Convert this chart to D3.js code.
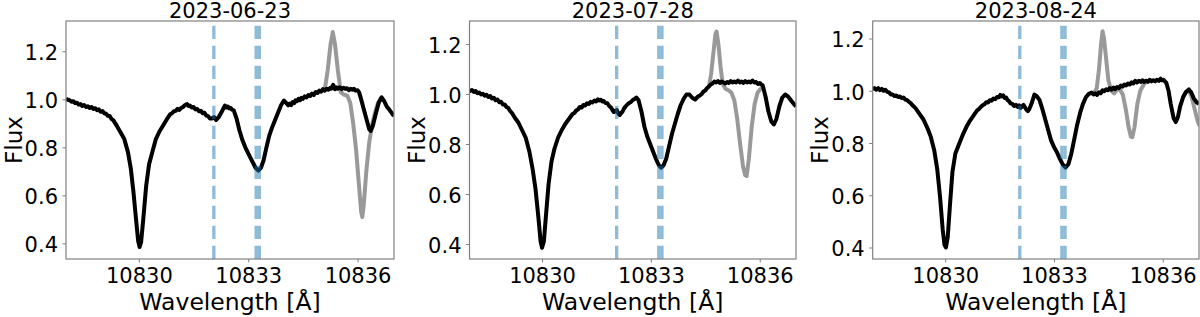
<!DOCTYPE html>
<html>
<head>
<meta charset="utf-8">
<script src="https://cdn.jsdelivr.net/npm/d3@7"></script>
<style>
  body { margin: 0; background: #fff; }
  svg { display: block; font-family: "DejaVu Sans", sans-serif; }
</style>
</head>
<body>
<script>
+function(window, d3) {

  // observation dates (panel titles)
  const dates = ['2023-06-23', '2023-07-28', '2023-08-24'];

  // He I triplet, vacuum wavelengths
  const heLines = [10832.057, 10833.217, 10833.306];

  const xTicks = [10830, 10833, 10836];
  const yTicks = [0.4, 0.6, 0.8, 1.0, 1.2];
  const xDomain = [10828, 10837];
  const yDomains = [[0.335, 1.326], [0.34, 1.292], [0.356, 1.267]];

  // corrected spectra [wavelength, flux]
  const black1 = [
    [10828.00, 1.003], [10828.05, 0.998], [10828.10, 0.996], [10828.15, 0.990], [10828.20, 0.992],
    [10828.25, 0.984], [10828.30, 0.986], [10828.35, 0.978], [10828.40, 0.980], [10828.45, 0.972],
    [10828.50, 0.976], [10828.55, 0.968], [10828.60, 0.971], [10828.65, 0.964], [10828.70, 0.968],
    [10828.75, 0.960], [10828.80, 0.963], [10828.85, 0.955], [10828.90, 0.958], [10828.95, 0.948],
    [10829.00, 0.951], [10829.05, 0.942], [10829.10, 0.940], [10829.15, 0.931], [10829.20, 0.930],
    [10829.25, 0.918], [10829.30, 0.912], [10829.40, 0.888], [10829.50, 0.862], [10829.60, 0.834],
    [10829.70, 0.780], [10829.78, 0.710], [10829.85, 0.615], [10829.92, 0.503], [10829.98, 0.410],
    [10830.02, 0.385], [10830.06, 0.405], [10830.12, 0.500], [10830.20, 0.640], [10830.28, 0.730],
    [10830.36, 0.775], [10830.46, 0.832], [10830.56, 0.865], [10830.66, 0.890], [10830.76, 0.915],
    [10830.86, 0.938], [10830.91, 0.942], [10830.96, 0.950], [10831.01, 0.952], [10831.06, 0.960],
    [10831.11, 0.956], [10831.16, 0.964], [10831.21, 0.968], [10831.26, 0.975], [10831.32, 0.980],
    [10831.36, 0.972], [10831.40, 0.974], [10831.45, 0.966], [10831.50, 0.968], [10831.55, 0.958],
    [10831.60, 0.960], [10831.65, 0.950], [10831.70, 0.952], [10831.75, 0.942], [10831.80, 0.944],
    [10831.85, 0.932], [10831.90, 0.930], [10831.95, 0.920], [10832.00, 0.920], [10832.06, 0.926],
    [10832.12, 0.914], [10832.20, 0.928], [10832.28, 0.950], [10832.32, 0.962], [10832.36, 0.974],
    [10832.40, 0.966], [10832.44, 0.970], [10832.48, 0.962], [10832.52, 0.964], [10832.56, 0.956],
    [10832.60, 0.955], [10832.68, 0.920], [10832.76, 0.870], [10832.84, 0.830], [10832.92, 0.800],
    [10833.00, 0.775], [10833.10, 0.745], [10833.20, 0.715], [10833.28, 0.703], [10833.35, 0.715],
    [10833.42, 0.745], [10833.50, 0.800], [10833.58, 0.850], [10833.66, 0.885], [10833.74, 0.915],
    [10833.82, 0.945], [10833.90, 0.975], [10833.98, 0.995], [10834.04, 0.985], [10834.10, 0.975],
    [10834.14, 0.982], [10834.18, 0.976], [10834.22, 0.988], [10834.26, 0.984], [10834.30, 0.996],
    [10834.34, 0.992], [10834.38, 1.002], [10834.42, 0.996], [10834.46, 1.006], [10834.50, 1.002],
    [10834.55, 1.012], [10834.60, 1.008], [10834.65, 1.018], [10834.70, 1.014], [10834.75, 1.024],
    [10834.80, 1.018], [10834.85, 1.030], [10834.90, 1.026], [10834.95, 1.036], [10835.00, 1.032],
    [10835.05, 1.042], [10835.10, 1.036], [10835.15, 1.044], [10835.20, 1.040], [10835.25, 1.048],
    [10835.28, 1.044], [10835.33, 1.060], [10835.38, 1.042], [10835.42, 1.050], [10835.46, 1.044],
    [10835.51, 1.050], [10835.56, 1.042], [10835.61, 1.048], [10835.66, 1.044], [10835.71, 1.046],
    [10835.76, 1.038], [10835.81, 1.044], [10835.86, 1.040], [10835.90, 1.044], [10835.94, 1.036],
    [10836.00, 1.038], [10836.04, 1.030], [10836.08, 1.010], [10836.16, 0.965], [10836.24, 0.920],
    [10836.32, 0.875], [10836.36, 0.868], [10836.42, 0.890], [10836.50, 0.940], [10836.58, 0.985],
    [10836.66, 1.008], [10836.72, 0.995], [10836.80, 0.970], [10836.88, 0.955], [10836.94, 0.942],
    [10837.00, 0.930]
  ];

  const black2 = [
    [10827.97, 1.018], [10828.02, 1.012], [10828.07, 1.016], [10828.12, 1.008], [10828.17, 1.012],
    [10828.22, 1.003], [10828.27, 1.006], [10828.32, 0.998], [10828.37, 1.001], [10828.42, 0.993],
    [10828.47, 0.997], [10828.52, 0.988], [10828.57, 0.992], [10828.62, 0.982], [10828.67, 0.985],
    [10828.72, 0.975], [10828.77, 0.978], [10828.82, 0.967], [10828.87, 0.969], [10828.92, 0.958],
    [10828.97, 0.958], [10829.02, 0.948], [10829.07, 0.944], [10829.12, 0.932], [10829.17, 0.924],
    [10829.25, 0.905], [10829.35, 0.885], [10829.45, 0.855], [10829.55, 0.825], [10829.65, 0.770],
    [10829.74, 0.700], [10829.82, 0.620], [10829.90, 0.505], [10829.96, 0.410], [10830.00, 0.385],
    [10830.05, 0.410], [10830.10, 0.500], [10830.18, 0.640], [10830.26, 0.730], [10830.34, 0.780],
    [10830.44, 0.825], [10830.54, 0.855], [10830.64, 0.880], [10830.74, 0.900], [10830.84, 0.920],
    [10830.89, 0.924], [10830.94, 0.934], [10830.99, 0.938], [10831.04, 0.948], [10831.09, 0.946],
    [10831.14, 0.956], [10831.19, 0.954], [10831.24, 0.963], [10831.29, 0.960], [10831.34, 0.969],
    [10831.39, 0.966], [10831.44, 0.974], [10831.49, 0.970], [10831.54, 0.979], [10831.58, 0.974],
    [10831.62, 0.977], [10831.66, 0.970], [10831.70, 0.972], [10831.75, 0.964], [10831.80, 0.963],
    [10831.85, 0.952], [10831.90, 0.946], [10831.94, 0.936], [10831.98, 0.928], [10832.02, 0.932],
    [10832.06, 0.936], [10832.10, 0.922], [10832.14, 0.916], [10832.18, 0.924], [10832.22, 0.930],
    [10832.26, 0.942], [10832.30, 0.950], [10832.35, 0.958], [10832.40, 0.964], [10832.45, 0.968],
    [10832.50, 0.976], [10832.55, 0.980], [10832.60, 0.986], [10832.66, 0.975], [10832.74, 0.930],
    [10832.82, 0.870], [10832.90, 0.830], [10832.98, 0.800], [10833.06, 0.770], [10833.14, 0.740],
    [10833.22, 0.715], [10833.28, 0.705], [10833.35, 0.715], [10833.42, 0.740], [10833.50, 0.790],
    [10833.58, 0.840], [10833.66, 0.880], [10833.74, 0.920], [10833.82, 0.955], [10833.90, 0.980],
    [10833.98, 0.998], [10834.06, 0.998], [10834.14, 0.985], [10834.22, 0.978], [10834.30, 0.990],
    [10834.35, 0.994], [10834.40, 1.000], [10834.45, 1.010], [10834.50, 1.014], [10834.55, 1.024],
    [10834.60, 1.030], [10834.65, 1.038], [10834.70, 1.042], [10834.75, 1.050], [10834.80, 1.046],
    [10834.85, 1.052], [10834.90, 1.044], [10834.95, 1.050], [10835.00, 1.046], [10835.05, 1.042],
    [10835.10, 1.048], [10835.15, 1.044], [10835.20, 1.052], [10835.25, 1.046], [10835.30, 1.050],
    [10835.35, 1.046], [10835.40, 1.054], [10835.45, 1.046], [10835.50, 1.050], [10835.55, 1.044],
    [10835.60, 1.052], [10835.65, 1.046], [10835.70, 1.050], [10835.75, 1.046], [10835.80, 1.054],
    [10835.85, 1.046], [10835.90, 1.048], [10835.95, 1.040], [10836.00, 1.044], [10836.04, 1.038],
    [10836.08, 1.035], [10836.16, 0.990], [10836.24, 0.930], [10836.32, 0.890], [10836.39, 0.878],
    [10836.46, 0.900], [10836.54, 0.950], [10836.62, 0.985], [10836.70, 0.998], [10836.78, 0.990],
    [10836.86, 0.975], [10836.94, 0.960], [10837.00, 0.950]
  ];

  const black3 = [
    [10828.00, 1.005], [10828.05, 1.010], [10828.10, 1.004], [10828.15, 1.010], [10828.20, 1.002],
    [10828.25, 1.007], [10828.30, 1.000], [10828.35, 1.004], [10828.40, 0.996], [10828.45, 0.994],
    [10828.50, 0.986], [10828.55, 0.986], [10828.60, 0.980], [10828.65, 0.982], [10828.70, 0.976],
    [10828.75, 0.978], [10828.80, 0.972], [10828.85, 0.974], [10828.90, 0.966], [10828.95, 0.964],
    [10829.00, 0.958], [10829.05, 0.952], [10829.10, 0.944], [10829.15, 0.938], [10829.20, 0.930],
    [10829.30, 0.910], [10829.40, 0.890], [10829.50, 0.860], [10829.60, 0.825], [10829.70, 0.770],
    [10829.78, 0.700], [10829.86, 0.590], [10829.93, 0.470], [10829.98, 0.410], [10830.02, 0.400],
    [10830.07, 0.440], [10830.13, 0.560], [10830.20, 0.690], [10830.28, 0.760], [10830.38, 0.795],
    [10830.48, 0.830], [10830.58, 0.860], [10830.68, 0.885], [10830.78, 0.905], [10830.88, 0.925],
    [10830.93, 0.930], [10830.98, 0.938], [10831.03, 0.944], [10831.08, 0.948], [10831.13, 0.956],
    [10831.18, 0.955], [10831.23, 0.964], [10831.28, 0.962], [10831.33, 0.970], [10831.38, 0.968],
    [10831.43, 0.976], [10831.48, 0.975], [10831.52, 0.984], [10831.56, 0.978], [10831.60, 0.982],
    [10831.64, 0.972], [10831.68, 0.974], [10831.72, 0.964], [10831.76, 0.960], [10831.80, 0.952],
    [10831.85, 0.950], [10831.90, 0.942], [10831.95, 0.946], [10832.00, 0.938], [10832.04, 0.944],
    [10832.08, 0.934], [10832.12, 0.940], [10832.16, 0.946], [10832.20, 0.936], [10832.24, 0.928],
    [10832.28, 0.922], [10832.32, 0.930], [10832.38, 0.950], [10832.46, 0.985], [10832.52, 0.980],
    [10832.60, 0.965], [10832.68, 0.930], [10832.76, 0.890], [10832.84, 0.850], [10832.92, 0.810],
    [10833.00, 0.785], [10833.08, 0.765], [10833.16, 0.740], [10833.24, 0.718], [10833.32, 0.706],
    [10833.40, 0.720], [10833.48, 0.760], [10833.56, 0.815], [10833.64, 0.870], [10833.72, 0.915],
    [10833.80, 0.950], [10833.88, 0.975], [10833.96, 0.988], [10834.04, 0.993], [10834.09, 0.986],
    [10834.14, 0.990], [10834.19, 0.984], [10834.24, 0.994], [10834.29, 0.990], [10834.34, 1.002],
    [10834.39, 0.998], [10834.44, 1.006], [10834.49, 1.002], [10834.54, 1.010], [10834.59, 1.004],
    [10834.64, 1.012], [10834.69, 1.006], [10834.74, 1.014], [10834.79, 1.010], [10834.84, 1.020],
    [10834.89, 1.016], [10834.94, 1.024], [10834.99, 1.020], [10835.04, 1.028], [10835.09, 1.024],
    [10835.14, 1.032], [10835.19, 1.028], [10835.24, 1.038], [10835.29, 1.032], [10835.34, 1.038],
    [10835.39, 1.034], [10835.44, 1.040], [10835.49, 1.034], [10835.54, 1.038], [10835.59, 1.034],
    [10835.64, 1.042], [10835.69, 1.036], [10835.74, 1.040], [10835.79, 1.036], [10835.84, 1.042],
    [10835.89, 1.038], [10835.94, 1.046], [10835.98, 1.040], [10836.02, 1.042], [10836.06, 1.036],
    [10836.10, 1.030], [10836.16, 1.000], [10836.22, 0.950], [10836.30, 0.895], [10836.36, 0.880],
    [10836.42, 0.900], [10836.48, 0.940], [10836.56, 0.975], [10836.64, 0.995], [10836.72, 1.005],
    [10836.78, 0.995], [10836.86, 0.970], [10836.94, 0.955], [10837.00, 0.950]
  ];

  // uncorrected spectra, only where they leave the corrected ones
  const gray1 = [
    [10834.90, 1.030], [10835.00, 1.035], [10835.10, 1.040], [10835.18, 1.120], [10835.26, 1.230],
    [10835.32, 1.280], [10835.38, 1.230], [10835.46, 1.120], [10835.54, 1.030], [10835.62, 1.020],
    [10835.72, 1.015], [10835.80, 0.985], [10835.88, 0.900], [10835.96, 0.790], [10836.04, 0.640],
    [10836.10, 0.530], [10836.13, 0.510], [10836.17, 0.560], [10836.24, 0.700], [10836.32, 0.820],
    [10836.40, 0.895], [10836.48, 0.945], [10836.56, 0.985], [10836.64, 1.005]
  ];

  const gray2 = [
    [10834.60, 1.030], [10834.66, 1.080], [10834.72, 1.160], [10834.78, 1.240], [10834.81, 1.250],
    [10834.86, 1.200], [10834.92, 1.110], [10834.98, 1.040], [10835.06, 1.020], [10835.14, 1.015],
    [10835.22, 1.005], [10835.30, 0.975], [10835.38, 0.900], [10835.46, 0.800], [10835.54, 0.710],
    [10835.60, 0.675], [10835.64, 0.672], [10835.70, 0.740], [10835.78, 0.870], [10835.86, 0.960],
    [10835.94, 1.005], [10836.02, 1.020], [10836.10, 1.025]
  ];

  const gray3a = [
    [10834.10, 0.990], [10834.18, 1.010], [10834.24, 1.080], [10834.30, 1.180], [10834.34, 1.228],
    [10834.38, 1.200], [10834.44, 1.120], [10834.50, 1.040], [10834.58, 1.000], [10834.66, 0.990],
    [10834.74, 1.005], [10834.82, 1.005], [10834.90, 0.985], [10834.98, 0.930], [10835.06, 0.860],
    [10835.12, 0.825], [10835.16, 0.822], [10835.22, 0.860], [10835.30, 0.950], [10835.38, 1.000],
    [10835.46, 1.020], [10835.54, 1.036]
  ];

  const gray3b = [
    [10836.56, 0.975], [10836.64, 0.995], [10836.72, 1.000], [10836.80, 0.975], [10836.88, 0.930],
    [10836.95, 0.890], [10837.00, 0.870]
  ];

  const width = 1200;
  const height = 317;
  const top = 21;
  const bottom = 259;

  const panels = [
    {left: 66, right: 394, black: black1, gray: [gray1]},
    {left: 469.5, right: 796, black: black2, gray: [gray2]},
    {left: 872.7, right: 1199, black: black3, gray: [gray3a, gray3b]}
  ];

  const svg = d3
    .select('body')
    .append('svg')
    .attr('width', width)
    .attr('height', height);

  panels.forEach((p, i) => {
    const x = d3.scaleLinear().domain(xDomain).range([p.left, p.right]);
    const y = d3.scaleLinear().domain(yDomains[i]).range([bottom, top]);

    const line = d3.line()
      .x(d => x(d[0]))
      .y(d => y(d[1]));

    svg.append('clipPath')
      .attr('id', 'clip_' + i)
      .append('rect')
      .attr('x', p.left)
      .attr('y', top)
      .attr('width', p.right - p.left)
      .attr('height', bottom - top);

    const plot = svg.append('g').attr('clip-path', `url(#clip_${i})`);

    plot.selectAll('path.gray')
      .data(p.gray)
      .enter()
      .append('path')
      .attr('class', 'gray')
      .attr('d', line)
      .attr('fill', 'none')
      .attr('stroke', '#999')
      .attr('stroke-width', 4)
      .attr('stroke-linejoin', 'round')
      .attr('stroke-linecap', 'round');

    plot.append('path')
      .datum(p.black)
      .attr('d', line)
      .attr('fill', 'none')
      .attr('stroke', '#000')
      .attr('stroke-width', 4)
      .attr('stroke-linejoin', 'round');

    // dashes start at the bottom, like axvline
    plot.selectAll('line.he')
      .data(heLines)
      .enter()
      .append('line')
      .attr('class', 'he')
      .attr('x1', d => x(d))
      .attr('x2', d => x(d))
      .attr('y1', bottom)
      .attr('y2', top)
      .attr('stroke', '#1f77b4')
      .attr('stroke-opacity', 0.5)
      .attr('stroke-width', 3.3)
      .attr('stroke-dasharray', '13.3 6.7');

    const xAxis = svg.append('g')
      .attr('transform', `translate(0, ${bottom})`)
      .call(d3.axisBottom(x).tickValues(xTicks).tickSize(3.5).tickPadding(5.6).tickFormat(d3.format('d')));

    const yAxis = svg.append('g')
      .attr('transform', `translate(${p.left}, 0)`)
      .call(d3.axisLeft(y).tickValues(yTicks).tickSize(3.5).tickPadding(4.5).tickFormat(d3.format('.1f')));

    [xAxis, yAxis].forEach(a => {
      a.attr('font-family', '"DejaVu Sans", sans-serif').attr('font-size', 21);
      a.select('.domain').remove();
      a.selectAll('.tick line').attr('stroke', '#808080');
      a.selectAll('.tick text').attr('fill', '#000');
    });
    yAxis.selectAll('.tick text').attr('dy', '0.4em');

    svg.append('rect')
      .attr('x', p.left)
      .attr('y', top)
      .attr('width', p.right - p.left)
      .attr('height', bottom - top)
      .attr('fill', 'none')
      .attr('stroke', '#808080')
      .attr('stroke-width', 1.2);

    const cx = (p.left + p.right) / 2;

    svg.append('text')
      .attr('x', cx)
      .attr('y', 17.5)
      .attr('text-anchor', 'middle')
      .attr('font-size', 21)
      .text(dates[i]);

    svg.append('text')
      .attr('x', cx)
      .attr('y', 309.5)
      .attr('text-anchor', 'middle')
      .attr('font-size', 23.5)
      .text('Wavelength [Å]');

    svg.append('text')
      .attr('transform', `translate(${p.left - 44.5}, ${(top + bottom) / 2}) rotate(-90)`)
      .attr('text-anchor', 'middle')
      .attr('font-size', 23)
      .text('Flux');
  });

}(window, d3);
</script>
</body>
</html>
